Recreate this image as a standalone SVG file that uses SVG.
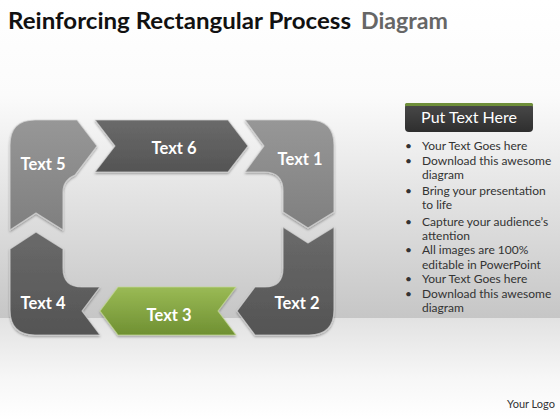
<svg xmlns="http://www.w3.org/2000/svg" width="560" height="420" viewBox="0 0 560 420">
<defs>
<linearGradient id="bgTop" x1="0" y1="0" x2="0" y2="1">
<stop offset="0" stop-color="#ffffff"/>
<stop offset="0.3" stop-color="#fbfbfb"/>
<stop offset="1" stop-color="#c6c6c6"/>
</linearGradient>
<linearGradient id="bgBot" x1="0" y1="0" x2="0" y2="1">
<stop offset="0" stop-color="#e2e2e2"/>
<stop offset="0.6" stop-color="#f7f7f7"/>
<stop offset="1" stop-color="#ffffff"/>
</linearGradient>
<linearGradient id="gLight" x1="0" y1="0" x2="0" y2="1">
<stop offset="0" stop-color="#979797"/>
<stop offset="1" stop-color="#7f7f7f"/>
</linearGradient>
<linearGradient id="gDark" x1="0" y1="0" x2="0" y2="1">
<stop offset="0" stop-color="#6a6a6a"/>
<stop offset="1" stop-color="#545454"/>
</linearGradient>
<linearGradient id="gGreen" x1="0" y1="0" x2="0" y2="1">
<stop offset="0" stop-color="#9aba55"/>
<stop offset="1" stop-color="#6f9032"/>
</linearGradient>
<linearGradient id="gBox" x1="0" y1="0" x2="0" y2="1">
<stop offset="0" stop-color="#4a4a4a"/>
<stop offset="1" stop-color="#2e2e2e"/>
</linearGradient>
<filter id="sh" x="-10%" y="-10%" width="120%" height="130%">
<feDropShadow dx="0" dy="1.5" stdDeviation="1.2" flood-color="#000" flood-opacity="0.35"/>
</filter>
</defs>
<style>
.piece{stroke:#d8d8d8;stroke-opacity:0.7;stroke-width:1.2;stroke-linejoin:round;filter:url(#sh)}
.light{fill:url(#gLight)}
.dark{fill:url(#gDark)}
.green{fill:url(#gGreen);stroke:#c8dc9a}
.lbl{font-family:Lato,"Liberation Sans",sans-serif;font-weight:bold;font-size:16.5px;fill:#ffffff;text-anchor:middle}
.bul{font-family:Lato,"Liberation Sans",sans-serif;font-size:12px;fill:#333333}
</style>

<rect x="0" y="0" width="560" height="318" fill="url(#bgTop)"/>
<rect x="0" y="318" width="560" height="102" fill="url(#bgBot)"/>

<text x="8" y="29" font-family="Lato,'Liberation Sans',sans-serif" font-weight="bold" font-size="23" fill="#111111" textLength="343" lengthAdjust="spacingAndGlyphs">Reinforcing Rectangular Process</text>
<text x="361" y="29" font-family="Lato,'Liberation Sans',sans-serif" font-weight="bold" font-size="23" fill="#666666" textLength="87" lengthAdjust="spacingAndGlyphs">Diagram</text>

<g id="connectors"></g>

<g id="node-text5">
<path class="piece light" d="M10,230 L10,145 Q10,120 35,120 L77,120 L97,146 L75,175 Q63,180 63,192 L63,230 L36,213 Z"/>
<text class="lbl" x="43" y="170">Text 5</text>
</g>
<g id="node-text6">
<path class="piece dark" d="M95,120 L228,120 L248,146 L228,172 L95,172 L115,146 Z"/>
<text class="lbl" x="174" y="154">Text 6</text>
</g>
<g id="node-text1">
<path class="piece light" d="M245,120 L309,120 Q334,120 334,145 L334,212 L308,228 L283,212 L283,191 Q283,172 264,172 L245,172 L264,146 Z"/>
<text class="lbl" x="300" y="165">Text 1</text>
</g>
<g id="node-text2">
<path class="piece dark" d="M283,227 L308,243 L334,227 L334,310 Q334,335 309,335 L255,335 L237,311 L255,287 L265,287 Q283,287 283,268 Z"/>
<text class="lbl" x="297" y="309">Text 2</text>
</g>
<g id="node-text3">
<path class="piece green" d="M118,287 L236,287 L218,311 L236,335 L118,335 L100,311 Z"/>
<text class="lbl" x="169" y="321">Text 3</text>
</g>
<g id="node-text4">
<path class="piece dark" d="M10,249 L36,232 L63,249 L63,268 Q63,287 82,287 L100,287 L82,311 L100,335 L35,335 Q10,335 10,310 Z"/>
<text class="lbl" x="43" y="309">Text 4</text>
</g>

<g id="node-box">
<rect x="405" y="103" width="128" height="29" rx="4" fill="url(#gBox)"/>
<path d="M405,108 Q405,103 410,103 L528,103 Q533,103 533,108 L533,106 L405,106 Z" fill="#6f8f3a"/>
<rect x="405" y="103" width="128" height="3" rx="1.5" fill="#6f8f3a"/>
<text x="469" y="123" font-family="Lato,'Liberation Sans',sans-serif" font-size="16" fill="#ffffff" text-anchor="middle">Put Text Here</text>
</g>

<g id="bullets">
<g class="bul">
<text x="405" y="150">•</text><text x="422" y="150">Your Text Goes here</text>
<text x="405" y="165">•</text><text x="422" y="165">Download this awesome</text>
<text x="422" y="179">diagram</text>
<text x="405" y="195">•</text><text x="422" y="195">Bring your presentation</text>
<text x="422" y="209">to life</text>
<text x="405" y="226">•</text><text x="422" y="226">Capture your audience’s</text>
<text x="422" y="240">attention</text>
<text x="405" y="254">•</text><text x="422" y="254">All images are 100%</text>
<text x="422" y="269">editable in PowerPoint</text>
<text x="405" y="283">•</text><text x="422" y="283">Your Text Goes here</text>
<text x="405" y="298">•</text><text x="422" y="298">Download this awesome</text>
<text x="422" y="312">diagram</text>
</g>
</g>

<text x="507" y="408" font-family="Lato,'Liberation Sans',sans-serif" font-size="11" fill="#333333">Your Logo</text>
</svg>
